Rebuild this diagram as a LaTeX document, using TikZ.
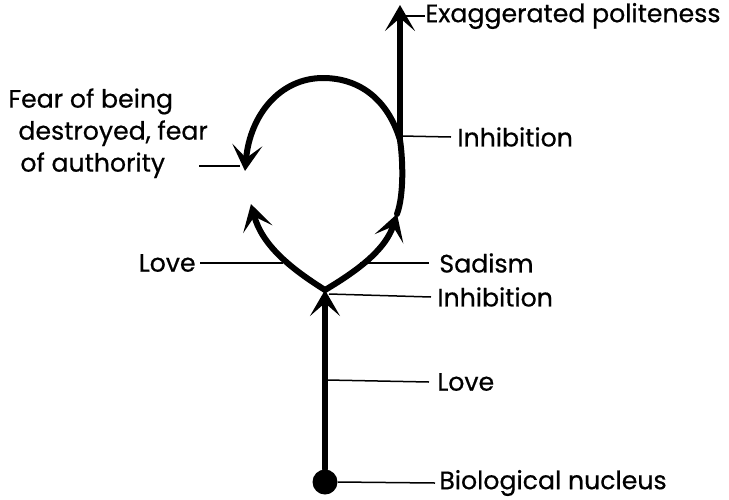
\documentclass[tikz,border=0pt]{standalone}
\usepackage{fontspec}
\setmainfont{Poppins}[FakeBold=0.6]
\usepackage{tikz}
\usetikzlibrary{arrows.meta, positioning}

\begin{document}
\begin{tikzpicture}[x=0.5pt, y=-0.5pt,
        curve/.style={line width=3pt, line cap=round},
        tipped/.style={curve, -{Stealth[length=13pt, width=15pt, inset=6.5pt]}},
        leader/.style={line width=0.75pt},
        lbl/.style={font=\fontsize{12.6}{16}\selectfont, inner sep=0pt}]
        \useasboundingbox (0,0) rectangle (729,499);

        % Points on the drawing
        \coordinate (fork) at (325,290);
        \coordinate (rmid) at (397,214);
        \coordinate (rjoin) at (400,140);
        \coordinate (toptip) at (400,5);

        % Biological nucleus and stem
        \node[circle, fill=black, minimum size=12.5pt, inner sep=0pt] (nucleus) at (325,482) {};
        \draw[tipped] (nucleus) -- (fork);

        % Left branch
        \draw[tipped] (fork) .. controls (290,268) and (262,245) .. (251,204);

        % Right branch and loop
        \draw[tipped] (fork) .. controls (362,268) and (386,248) .. (rmid);
        \draw[curve] (rmid) .. controls (404,195) and (403,160) .. (rjoin);
        \draw[tipped] (rjoin) .. controls (388,100) and (360,78) .. (323,78)
            .. controls (280,78) and (250,115) .. (245,171);

        % Upward arrow
        \draw[tipped] (rjoin) -- (toptip);

        % Labels
        \node[lbl, anchor=west] (polite) at (425,16) {Exaggerated politeness};
        \node[lbl, anchor=west] (inhibtop) at (457,137) {Inhibition};
        \node[lbl, anchor=north west, align=left] (fear) at (8,88)
            {Fear of being\\\hspace*{5pt}destroyed, fear\\\hspace*{6pt}of authority};
        \node[lbl, anchor=east] (lovel) at (196,263) {Love};
        \node[lbl, anchor=west] (sadism) at (439,263) {Sadism};
        \node[lbl, anchor=west] (inhibmid) at (437,297) {Inhibition};
        \node[lbl, anchor=west] (lovestem) at (437,382) {Love};
        \node[lbl, anchor=west] (bio) at (439,483) {Biological nucleus};

        % Leader lines
        \coordinate (p1) at (405,16);
        \coordinate (p2) at (401,136);
        \coordinate (f1) at (199,166);
        \coordinate (f2) at (240,166);
        \coordinate (p3) at (283,263);
        \coordinate (p4) at (360,263);
        \coordinate (p5) at (329,294);
        \coordinate (p6) at (327,380);
        \draw[leader] (p1) -- (polite.west);
        \draw[leader] (p2) -- ([xshift=-3pt]inhibtop.west);
        \draw[leader] (f1) -- (f2);
        \draw[leader] ([xshift=2pt]lovel.east) -- (p3);
        \draw[leader] (p4) -- ([xshift=-5pt]sadism.west);
        \draw[leader] (p5) -- ([xshift=-3pt]inhibmid.west);
        \draw[leader] (p6) -- ([xshift=-4pt]lovestem.west);
        \draw[leader] (nucleus.east) -- ([xshift=-2pt]bio.west);

\end{tikzpicture}
\end{document}
